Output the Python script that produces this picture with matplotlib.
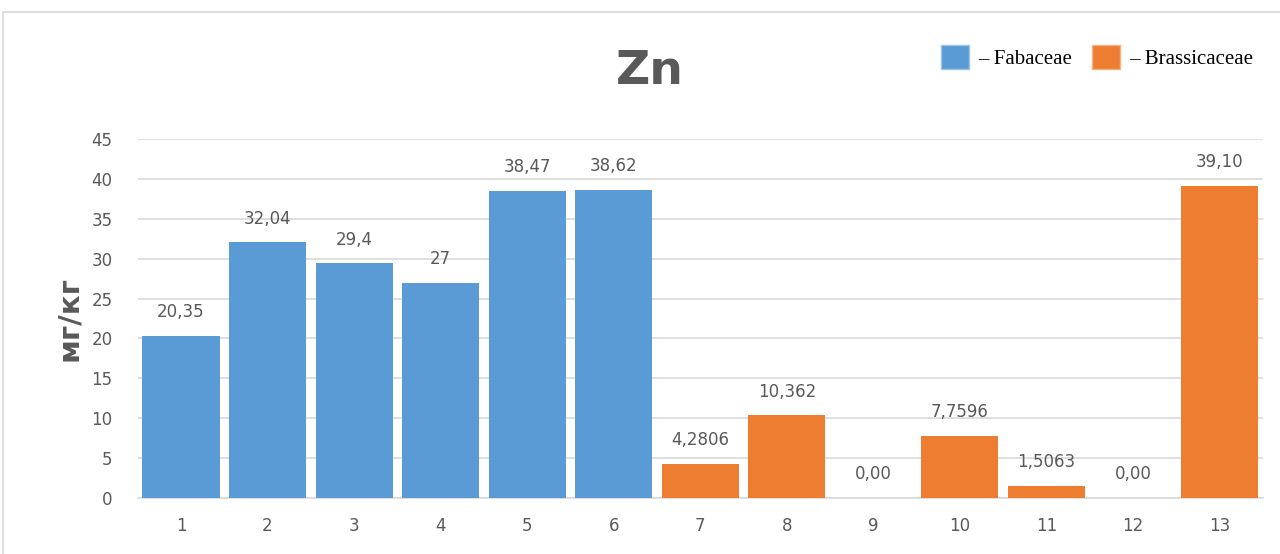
import matplotlib.pyplot as plt
from matplotlib.patches import Rectangle, Patch

# Zn content per sample, two plant families
samples = [str(i) for i in range(1, 14)]
values = [20.35, 32.04, 29.4, 27, 38.47, 38.62, 4.2806, 10.362, 0.0, 7.7596, 1.5063, 0.0, 39.10]
labels = ["20,35", "32,04", "29,4", "27", "38,47", "38,62", "4,2806", "10,362",
          "0,00", "7,7596", "1,5063", "0,00", "39,10"]
family = ["Fabaceae"] * 6 + ["Brassicaceae"] * 7

colors = {"Fabaceae": "#5B9BD5", "Brassicaceae": "#ED7D31"}
text_grey = "#595959"

fig = plt.figure(figsize=(12.8, 5.54), dpi=100)
ax = fig.add_axes([0.1076, 0.1011, 0.879, 0.648])

# light chart border like the office export
fig.patches.append(Rectangle((3 / 1280, -0.1), 1.2, 1 - 12 / 554 + 0.1,
                             transform=fig.transFigure, fill=False,
                             edgecolor="#d9d9d9", linewidth=1.2))

x = range(len(samples))
bar_cols = [colors[f] for f in family]
ax.bar(x, values, width=0.89, color=bar_cols, zorder=3)

for xi, v, lab in zip(x, values, labels):
    ax.annotate(lab, (xi, v), xytext=(0, 17), textcoords="offset points",
                ha="center", va="center", fontsize=12, color=text_grey)

ax.set_xlim(-0.5, len(samples) - 0.5)
ax.set_ylim(0, 45)
ax.set_yticks(range(0, 46, 5))
ax.set_xticks(list(x))
ax.set_xticklabels(samples)
ax.tick_params(axis="both", length=0, labelsize=12, labelcolor=text_grey)
ax.tick_params(axis="x", pad=14)
ax.tick_params(axis="y", pad=18)
ax.grid(axis="y", color="#d9d9d9", linewidth=1.2, zorder=0)
for s in ["top", "right", "left"]:
    ax.spines[s].set_visible(False)
ax.spines["bottom"].set_color("#d9d9d9")
ax.spines["bottom"].set_linewidth(1.2)

ax.set_ylabel("мг/кг", fontsize=21, fontweight="bold", color=text_grey, labelpad=6)
fig.text(650 / 1280, 1 - 71 / 554, "Zn", ha="center", va="center",
         fontsize=34, fontweight="bold", color=text_grey)

handles = [Patch(facecolor=colors["Fabaceae"], edgecolor="#9dc3e6"),
           Patch(facecolor=colors["Brassicaceae"], edgecolor="#f4b183")]
fig.legend(handles, ["– Fabaceae", "– Brassicaceae"], loc="center",
           bbox_to_anchor=(1097 / 1280, 1 - 57 / 554), ncol=2, frameon=False,
           prop={"family": "Liberation Serif", "size": 15},
           handlelength=1.35, handleheight=1.35, handletextpad=0.4, columnspacing=1.0)

fig.savefig("out.png", dpi=100, facecolor="white")
